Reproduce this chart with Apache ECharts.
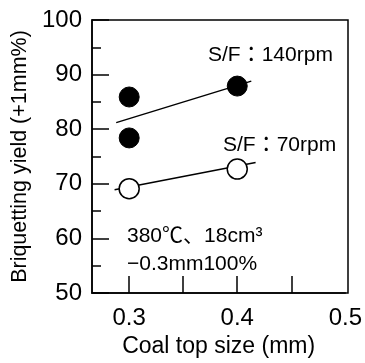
<!DOCTYPE html>
<html><head><meta charset="utf-8">
<script src="https://cdn.jsdelivr.net/npm/echarts@6/dist/echarts.min.js"></script>
<style>html,body{margin:0;padding:0;background:#fff}#c{width:365px;height:363px}</style>
</head><body><div id="c"></div>
<script>
// Data
const xTickLabels = [0.3, 0.4, 0.5];
const xTicks = [0.3, 0.35, 0.4, 0.45];
const rpm140X = [0.3, 0.3, 0.4];
const rpm140Y = [85.9, 78.4, 87.9];
const rpm70X = [0.3, 0.4];
const rpm70Y = [69.1, 72.7];
const fit140X = [0.288, 0.413];
const fit140Y = [81.2, 88.8];
const fit70X = [0.2865, 0.417];
const fit70Y = [68.9, 73.9];

const FONT = '"Liberation Sans", "Noto Sans CJK JP", sans-serif';
const zip = (a, b) => a.map((v, i) => [v, b[i]]);

const chart = echarts.init(document.getElementById('c'), null, {renderer: 'canvas'});
chart.setOption({
  animation: false,
  backgroundColor: '#fff',
  grid: {left: 92, top: 20, right: 17, bottom: 70, containLabel: false},
  xAxis: {
    type: 'value', min: 0.2656, max: 0.5,
    name: 'Coal top size (mm)', nameLocation: 'middle', nameGap: 41,
    nameTextStyle: {fontFamily: FONT, fontSize: 23, color: '#000'},
    axisLine: {show: true, lineStyle: {color: '#000', width: 1.5}},
    axisTick: {show: true, inside: true, length: 17, customValues: xTicks, lineStyle: {color: '#000', width: 1.5}},
    axisLabel: {customValues: xTickLabels, margin: 13, fontFamily: FONT, fontSize: 24, color: '#000',
      formatter: v => v.toFixed(1)},
    splitLine: {show: false}
  },
  yAxis: {
    type: 'value', min: 50, max: 100, interval: 10,
    name: 'Briquetting yield (+1mm%)', nameLocation: 'middle', nameGap: 58,
    nameTextStyle: {fontFamily: FONT, fontSize: 21.5, color: '#000'},
    axisLine: {show: true, lineStyle: {color: '#000', width: 1.5}},
    axisTick: {show: true, inside: true, length: 17, lineStyle: {color: '#000', width: 1.5}},
    minorTick: {show: true, splitNumber: 2, length: 9, lineStyle: {color: '#000', width: 1.5}},
    axisLabel: {margin: 10, fontFamily: FONT, fontSize: 24, color: '#000'},
    splitLine: {show: false}, minorSplitLine: {show: false}
  },
  graphic: [
    {type: 'rect', shape: {x: 92, y: 20, width: 256, height: 273}, style: {fill: 'none', stroke: '#000', lineWidth: 1.5}, silent: true, z: 0},
    {type: 'text', left: 208, top: 45, style: {text: 'S/F：140rpm', font: '21px ' + FONT, fill: '#000'}},
    {type: 'text', left: 223, top: 135, style: {text: 'S/F：70rpm', font: '21px ' + FONT, fill: '#000'}},
    {type: 'text', left: 127, top: 226, style: {text: '380℃、18cm³', font: '21px ' + FONT, fill: '#000'}},
    {type: 'text', left: 127, top: 254, style: {text: '−0.3mm100%', font: '21px ' + FONT, fill: '#000'}}
  ],
  series: [
    {type: 'line', data: zip(fit140X, fit140Y), symbol: 'none', lineStyle: {color: '#000', width: 1.5}, z: 2},
    {type: 'line', data: zip(fit70X, fit70Y), symbol: 'none', lineStyle: {color: '#000', width: 1.5}, z: 2},
    {type: 'scatter', data: zip(rpm140X, rpm140Y), symbol: 'circle', symbolSize: 20,
      itemStyle: {color: '#000', borderColor: '#000', borderWidth: 1, opacity: 1}, z: 3},
    {type: 'scatter', data: zip(rpm70X, rpm70Y), symbol: 'circle', symbolSize: 20,
      itemStyle: {color: '#fff', borderColor: '#000', borderWidth: 1.5, opacity: 1}, z: 3}
  ]
});
</script></body></html>
